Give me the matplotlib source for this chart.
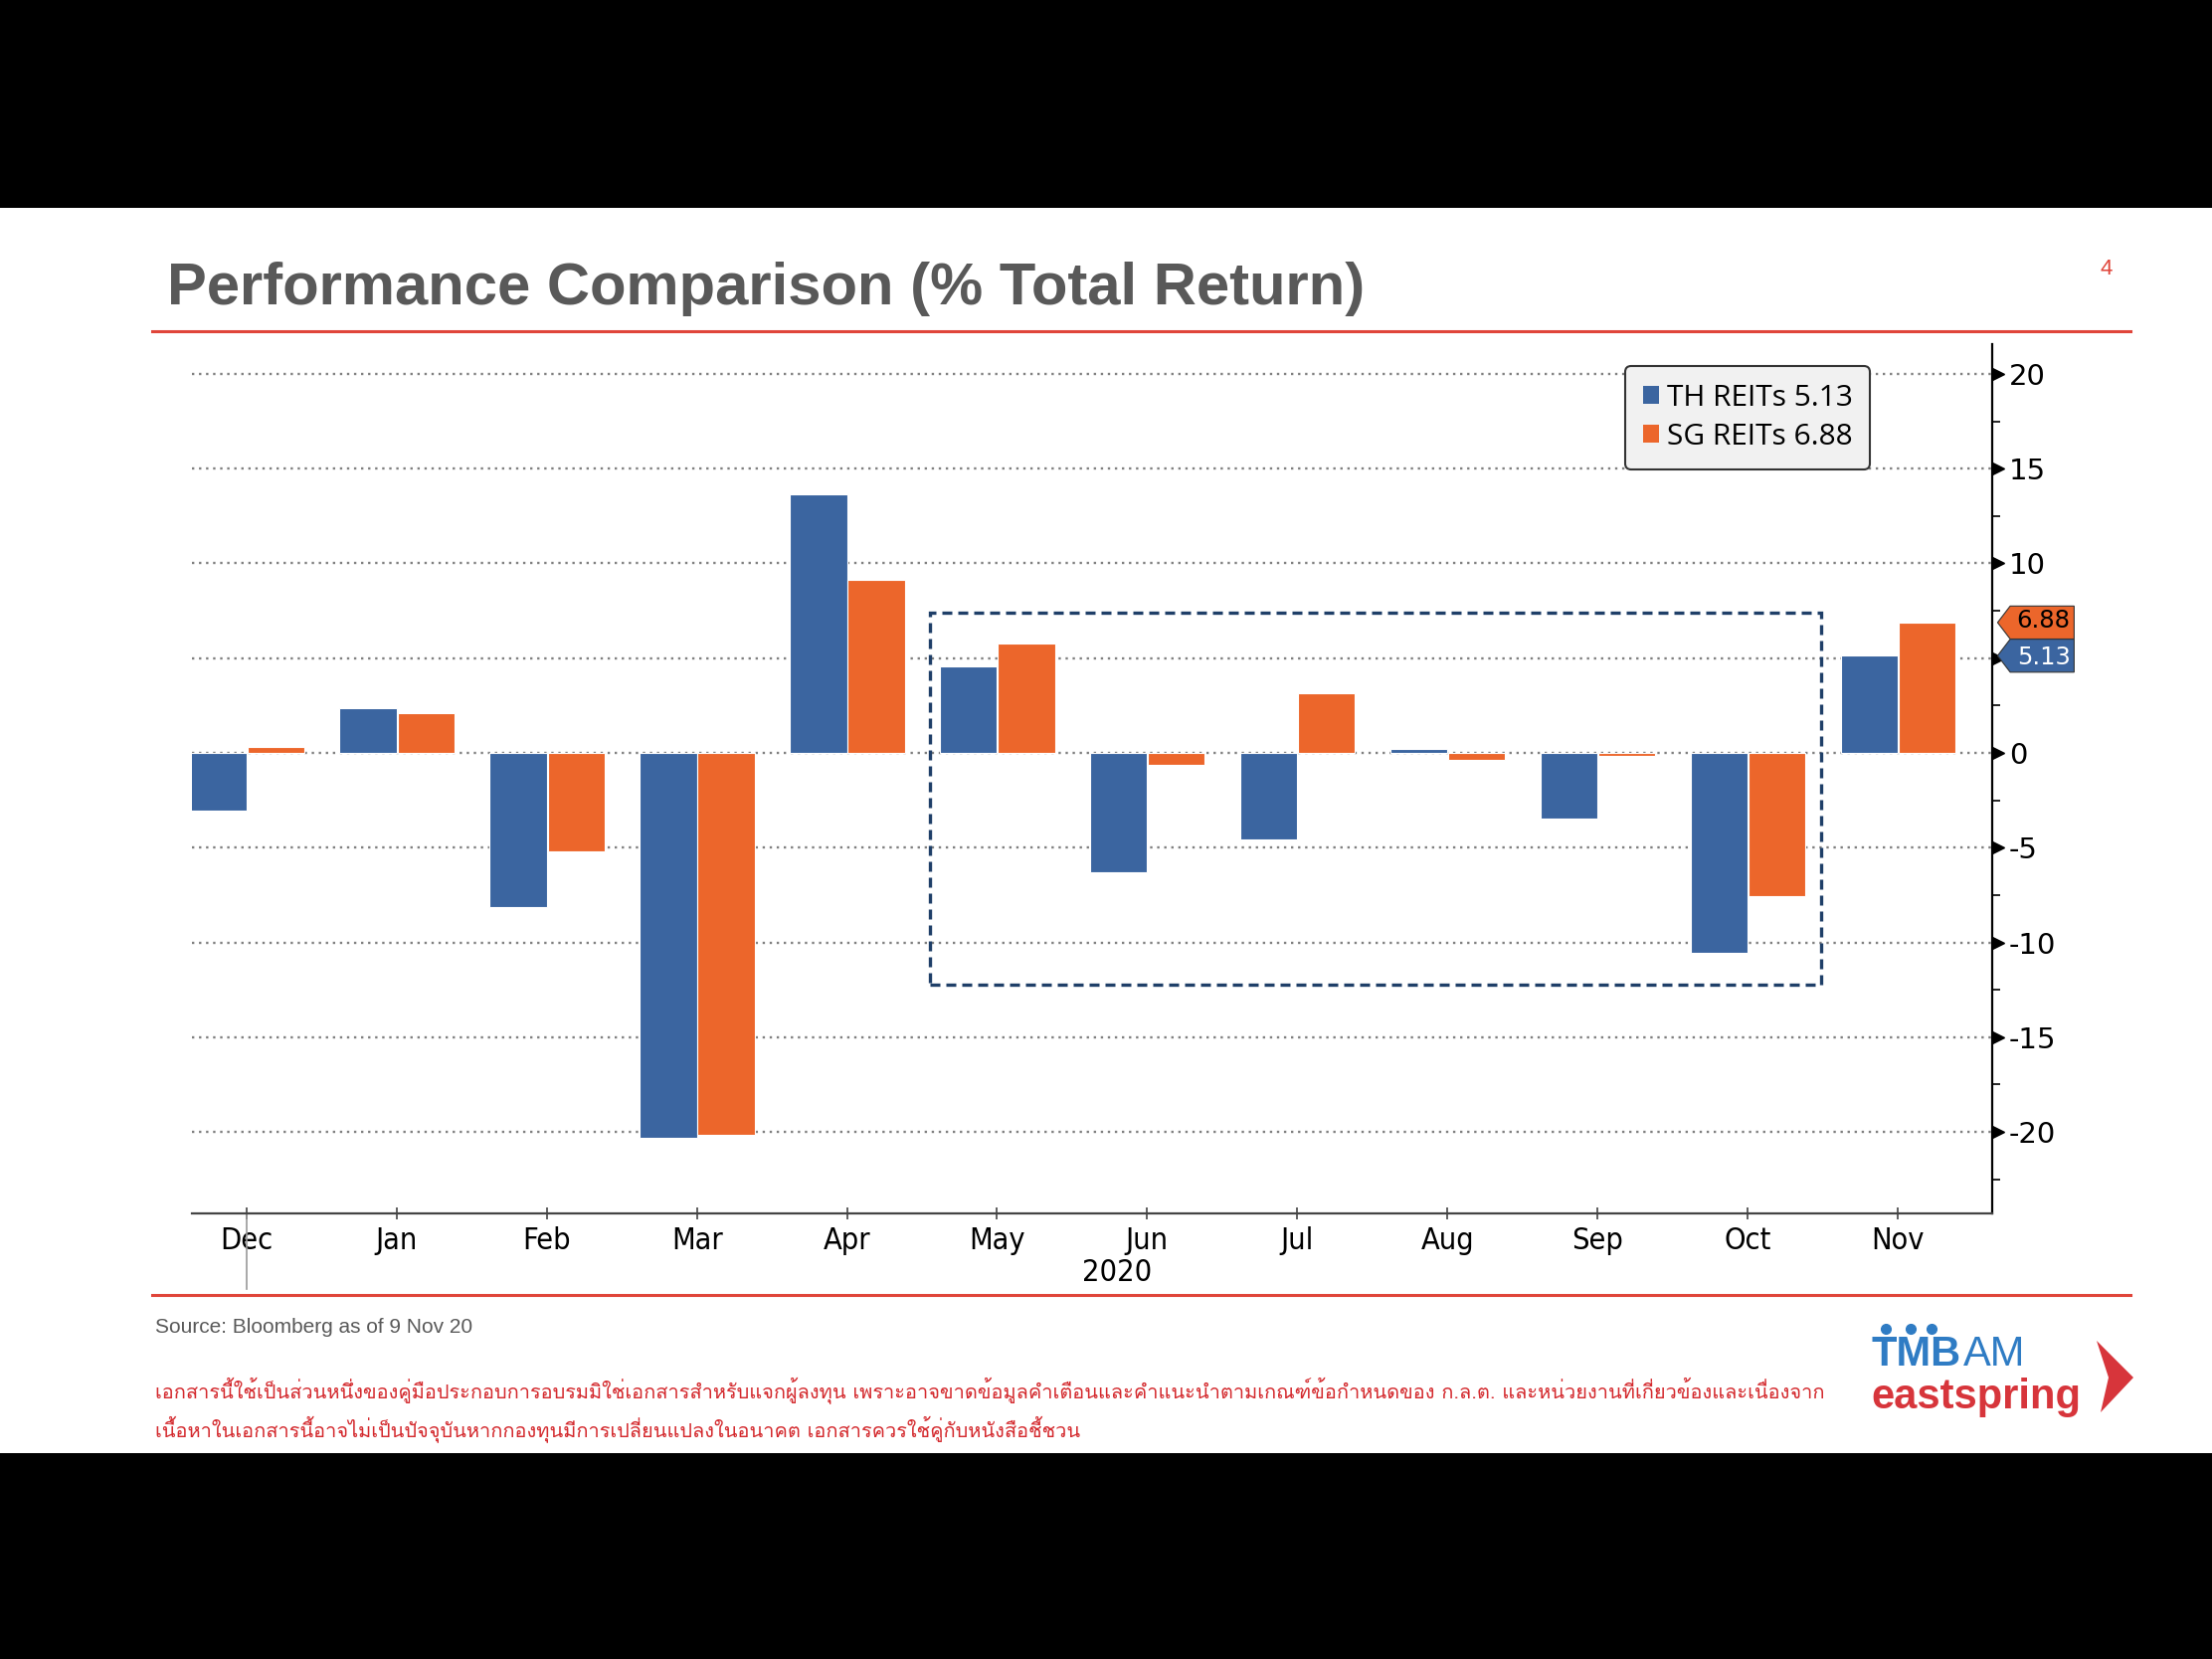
"""Performance comparison slide: TH REITs vs SG REITs monthly total return."""

import matplotlib

matplotlib.use("Agg")
import matplotlib.pyplot as plt  # noqa: E402
import matplotlib.transforms as mtransforms  # noqa: E402
from matplotlib import font_manager  # noqa: E402
from matplotlib.ft2font import FT2Font  # noqa: E402
from matplotlib.lines import Line2D  # noqa: E402
from matplotlib.patches import Patch, Polygon, Rectangle  # noqa: E402
from matplotlib.text import Annotation  # noqa: E402

plt.rcParams["axes.unicode_minus"] = False

W, H = 2224, 1668

months = ["Dec", "Jan", "Feb", "Mar", "Apr", "May", "Jun", "Jul", "Aug", "Sep", "Oct", "Nov"]
th_reits = [-3.03, 2.34, -8.16, -20.3, 13.66, 4.56, -6.3, -4.59, 0.21, -3.47, -10.54, 5.13]
sg_reits = [0.29, 2.10, -5.18, -20.15, 9.11, 5.76, -0.61, 3.16, -0.35, -0.14, -7.57, 6.88]
y_ticks = [-20, -15, -10, -5, 0, 5, 10, 15, 20]
# the 5 label sits under the last-value tags, so it is left blank
y_labels = ["-20", "-15", "-10", "-5", "0", "", "10", "15", "20"]
th_last, sg_last = 5.13, 6.88

BLUE = "#3b65a0"
ORANGE = "#ec662b"
RED = "#e0453a"
NAVY = "#1f3f68"
LOGO_BLUE = "#2f7cc4"
LOGO_RED = "#d7353b"

title = "Performance Comparison (% Total Return)"
source = "Source: Bloomberg as of 9 Nov 20"
disclaimer = [
    "เอกสารนี้ใช้เป็นส่วนหนึ่งของคู่มือประกอบการอบรมมิใช่เอกสารสำหรับแจกผู้ลงทุน เพราะอาจขาดข้อมูลคำเตือนและคำแนะนำตามเกณฑ์ข้อกำหนดของ ก.ล.ต. และหน่วยงานที่เกี่ยวข้องและเนื่องจาก",
    "เนื้อหาในเอกสารนี้อาจไม่เป็นปัจจุบันหากกองทุนมีการเปลี่ยนแปลงในอนาคต เอกสารควรใช้คู่กับหนังสือชี้ชวน",
]


def thai_family():
    """First installed family that has Thai glyphs, else DejaVu Sans."""
    for f in font_manager.fontManager.ttflist:
        try:
            if 0x0E01 in FT2Font(f.fname).get_charmap():
                return f.name
        except Exception:
            continue
    return "DejaVu Sans"


def fx(px):
    return px / W


def fy(py):
    return 1 - py / H


fig = plt.figure(figsize=(W / 100, H / 100), dpi=100, facecolor="black")
# white slide between the black letterbox bars
fig.patches.append(Rectangle((0, fy(1461)), 1, fy(209) - fy(1461), transform=fig.transFigure,
                             facecolor="white", edgecolor="none", zorder=-10))

ax = fig.add_axes([fx(193), fy(1220), fx(2003) - fx(193), fy(346) - fy(1220)], zorder=2)
ax.set_facecolor("white")

x = list(range(len(months)))
bw = 0.38
ax.bar([i - bw for i in x], th_reits, width=bw, align="edge", color=BLUE,
       edgecolor="white", linewidth=0.8, zorder=3)
ax.bar([i + 0.005 for i in x], sg_reits, width=bw, align="edge", color=ORANGE,
       edgecolor="white", linewidth=0.8, zorder=3)

ax.set_xlim(-0.364, 11.63)
ax.set_ylim(-24.3, 21.57)

for yv in y_ticks:
    ax.axhline(yv, color="#808080", lw=1.7, ls=(0, (1, 2.0)), zorder=1)

# dashed highlight box (May-Oct)
ax.add_patch(Rectangle((4.55, -12.25), 10.49 - 4.55, 7.40 + 12.25, fill=False,
                       edgecolor=NAVY, lw=2.4, ls=(0, (3, 1.8)), zorder=4))

# right axis styling
for side in ["left", "top"]:
    ax.spines[side].set_visible(False)
ax.spines["right"].set_color("black")
ax.spines["right"].set_linewidth(1.6)
ax.spines["bottom"].set_color("#444444")
ax.spines["bottom"].set_linewidth(1.6)
ax.yaxis.tick_right()
ax.set_yticks(y_ticks, y_labels)
ax.set_yticks([v + 2.5 for v in range(-25, 20, 5)], minor=True)
ax.tick_params(axis="y", which="major", length=0, pad=12, labelsize=21, labelcolor="black")
ax.tick_params(axis="y", which="minor", length=6, width=1.2, color="black")
trans_y = mtransforms.blended_transform_factory(ax.transAxes, ax.transData)
ax.plot([1.0035] * len(y_ticks), y_ticks, transform=trans_y, marker=">", ms=9, color="black",
        ls="none", clip_on=False, zorder=5)

ax.set_xticks(x)
ax.set_xticklabels(months, fontsize=22, fontstretch="condensed")
ax.tick_params(axis="x", which="major", length=8, width=1.2, direction="inout",
               color="#444444", pad=5)
trans_x = mtransforms.blended_transform_factory(ax.transData, fig.transFigure)
ax.add_line(Line2D([0, 0], [fy(1220), fy(1296)], transform=trans_x, color="#999999",
                   lw=1.2, clip_on=False))
ax.text(5.8, fy(1279), "2020", transform=trans_x, ha="center", va="center", fontsize=22,
        fontstretch="condensed")

# last-value tags on the right axis
for val, nudge, color, tcolor, label in [(sg_last, 0.1, ORANGE, "black", f"{sg_last:.2f}"),
                                         (th_last, -0.1, BLUE, "white", f"{th_last:.2f}")]:
    h = 0.87
    tip = 1.003
    x0 = 1.010
    x1 = 1.0455
    ax.add_patch(Polygon([(tip, val), (x0, val + h), (x1, val + h), (x1, val - h),
                          (x0, val - h)], closed=True, transform=trans_y,
                         facecolor=color, edgecolor="#333333", lw=0.8, clip_on=False, zorder=6))
    ax.text(x1 - 0.002, val + nudge, label, transform=trans_y, ha="right", va="center",
            fontsize=17.5, color=tcolor, zorder=7)

handles = [Patch(facecolor=BLUE, edgecolor="none"), Patch(facecolor=ORANGE, edgecolor="none")]
leg = ax.legend(handles, [f"TH REITs {th_last:.2f}", f"SG REITs {sg_last:.2f}"],
                loc="upper left", bbox_to_anchor=(0.796, 0.975),
                handlelength=0.55, handleheight=0.55, handletextpad=0.25, labelspacing=0.33,
                borderpad=0.6, borderaxespad=0, frameon=True, fancybox=True,
                prop={"family": "Open Sans", "size": 21.5})
leg.get_frame().set_facecolor("#f1f1f1")
leg.get_frame().set_edgecolor("#333333")
leg.get_frame().set_linewidth(1.5)
leg.get_frame().set_alpha(1)
leg.set_zorder(8)

# slide chrome
fig.text(fx(168), fy(290), title, fontsize=43, fontweight="bold", color="#595959",
         family="Liberation Sans", va="center", ha="left")
fig.text(fx(2118), fy(270), "4", fontsize=16, color=RED, ha="center", va="center",
         family="Liberation Sans")
for yy in (333, 1302):
    fig.add_artist(Line2D([fx(153), fx(2142)], [fy(yy), fy(yy)], color=RED, lw=2.2))
fig.text(fx(156), fy(1335), source, fontsize=15, color="#595959", family="Liberation Sans",
         ha="left", va="center")
thai = [thai_family(), "DejaVu Sans"]
for yy, line in zip((1398, 1437), disclaimer):
    fig.text(fx(156), fy(yy), line, fontsize=14.4, color="#d42a2e", family=thai,
             ha="left", va="center")

# logo
tmb = fig.text(fx(1882), fy(1373), "TMB", fontsize=30, fontweight="bold", color=LOGO_BLUE,
               family="Liberation Sans", ha="left", va="baseline")
fig.add_artist(Annotation("AM", xy=(1, 0), xycoords=tmb, xytext=(1, 0),
                          textcoords="offset points", fontsize=30, color=LOGO_BLUE,
                          family="Liberation Sans", ha="left", va="bottom"))
fig.add_artist(Line2D([fx(1896), fx(1921), fx(1942)], [fy(1336)] * 3, ls="none", marker="o",
                      ms=7, color=LOGO_BLUE))
fig.text(fx(1881), fy(1416), "eastspring", fontsize=30, fontweight="bold", color=LOGO_RED,
         family="Liberation Sans", ha="left", va="baseline")
fig.patches.append(Polygon([(fx(2108), fy(1348)), (fx(2145), fy(1385)), (fx(2112), fy(1420)),
                            (fx(2120), fy(1385))], closed=True, transform=fig.transFigure,
                           facecolor=LOGO_RED, edgecolor="none"))

fig.savefig("out.png", dpi=100, facecolor=fig.get_facecolor())
